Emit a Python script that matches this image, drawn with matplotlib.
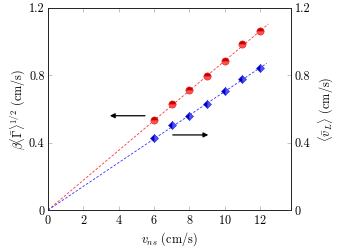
import matplotlib
matplotlib.use("Agg")
import matplotlib.pyplot as plt
import numpy as np

plt.rcParams["font.family"] = "serif"
plt.rcParams["font.serif"] = ["cmr10", "DejaVu Serif"]
plt.rcParams["mathtext.fontset"] = "cm"
plt.rcParams["axes.formatter.use_mathtext"] = True
plt.rcParams["font.size"] = 8.8

# data
v_ns = [6, 7, 8, 9, 10, 11, 12]
gamma_half = [0.535, 0.63, 0.713, 0.796, 0.887, 0.984, 1.063]
v_L = [0.426, 0.507, 0.56, 0.628, 0.707, 0.78, 0.845]

# fitted slopes through origin
slope_red = 0.0886
slope_blue = 0.0704
fit_x_end_red = 12.47
fit_x_end_blue = 12.37

xticks = [0, 2, 4, 6, 8, 10, 12]
yticks = [0, 0.4, 0.8, 1.2]
ytick_labels = ["0", "0.4", "0.8", "1.2"]

fig = plt.figure(figsize=(3.38, 2.48), dpi=100)
ax = fig.add_axes([0.142, 0.153, 0.719, 0.815])
ax2 = ax.twinx()

xr = np.array([0, fit_x_end_red])
xb = np.array([0, fit_x_end_blue])
ax.plot(xr, slope_red * xr, color="#ff3030", ls=(0, (3, 2)), lw=0.6, zorder=2)
ax2.plot(xb, slope_blue * xb, color="#3030ff", ls=(0, (3, 2)), lw=0.6, zorder=2)

ax.plot(v_ns, gamma_half, ls="none", marker="o", ms=5.2, fillstyle="top",
        markerfacecolor="#c80000", markerfacecoloralt="#ff5050",
        markeredgecolor="#e82020", markeredgewidth=0.4, zorder=3)
ax2.plot(v_ns, v_L, ls="none", marker="D", ms=4.0, fillstyle="left",
         markerfacecolor="#0000c0", markerfacecoloralt="#5050ff",
         markeredgecolor="#2020e0", markeredgewidth=0.4, zorder=3)

# direction arrows
ax.annotate("", xy=(3.5, 0.56), xytext=(5.49, 0.56),
            arrowprops=dict(arrowstyle="-|>", color="black", lw=0.9,
                            mutation_scale=7, shrinkA=0, shrinkB=0))
ax2.annotate("", xy=(9.07, 0.446), xytext=(7.06, 0.446),
             arrowprops=dict(arrowstyle="-|>", color="black", lw=0.9,
                             mutation_scale=7, shrinkA=0, shrinkB=0))

for a in (ax, ax2):
    a.set_xlim(0, 13.75)
    a.set_ylim(0, 1.2)
    a.set_yticks(yticks)
    a.set_yticklabels(ytick_labels)
    for s in a.spines.values():
        s.set_linewidth(0.6)
        s.set_color("#222222")

ax.set_xticks(xticks)
ax.tick_params(axis="both", direction="in", length=3, width=0.5,
               color="#aaaaaa", pad=2.5, top=True)
ax2.tick_params(axis="y", direction="in", length=3, width=0.5,
                color="#aaaaaa", pad=2.5)

ax.set_xlabel(r"$v_{ns}$ (cm/s)", labelpad=3)
ax.set_ylabel(r"$\beta\langle\bar{\Gamma}\rangle^{1/2}$ (cm/s)", labelpad=1)
ax2.set_ylabel(r"$\langle\bar{v}_L\rangle$ (cm/s)", rotation=90, labelpad=5)

fig.savefig("out.png", dpi=100)
